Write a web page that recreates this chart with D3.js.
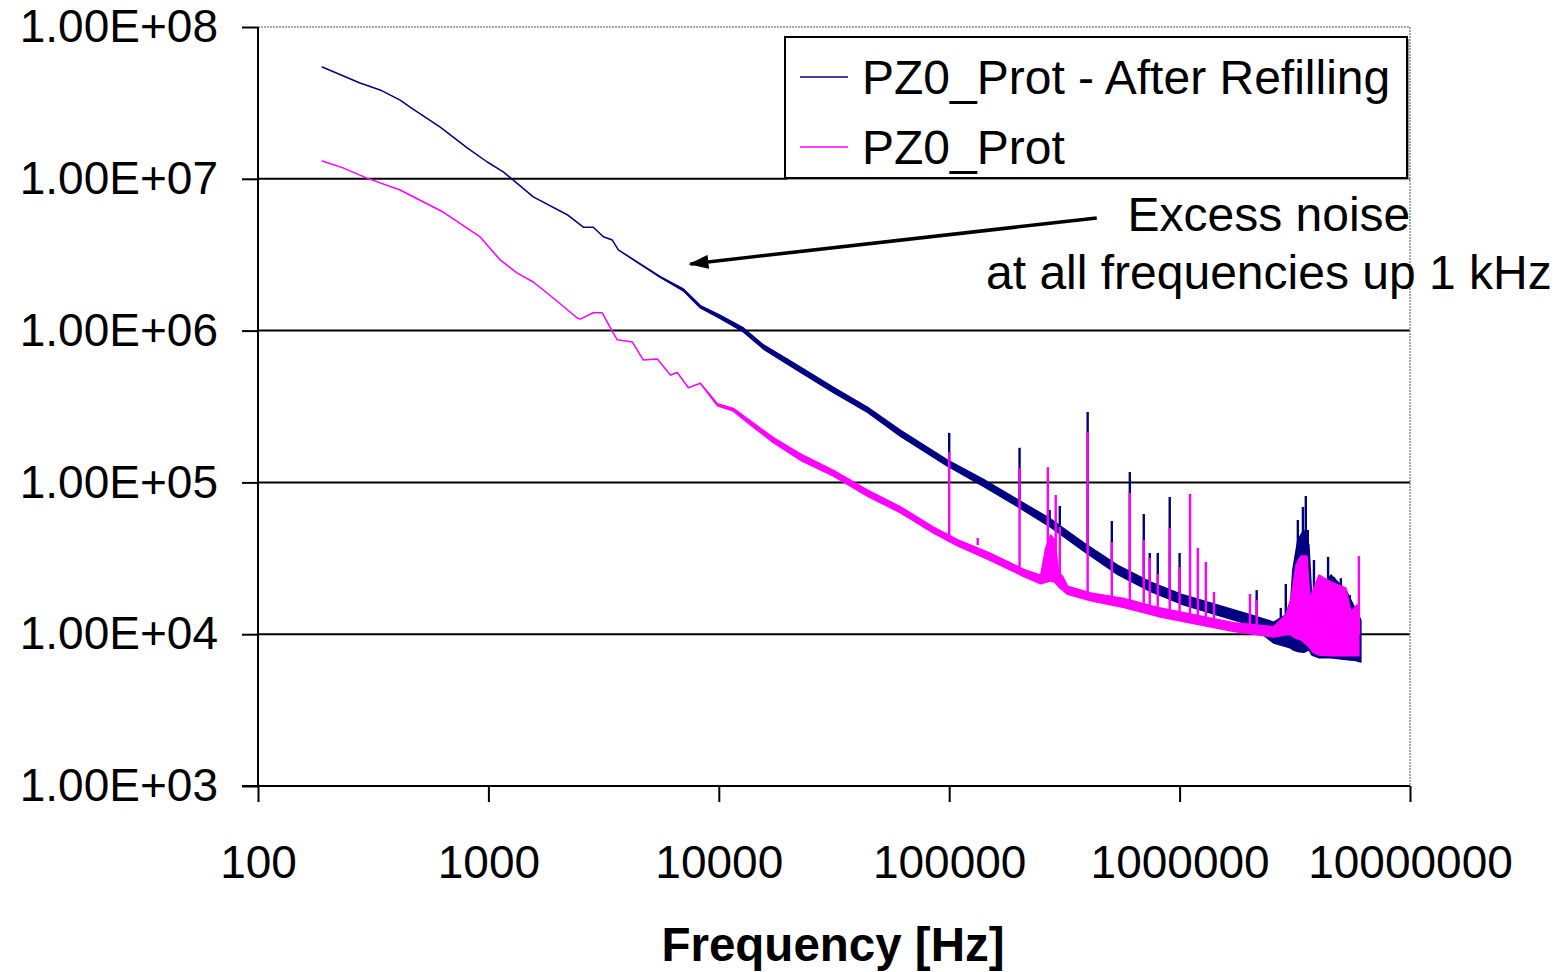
<!DOCTYPE html>
<html>
<head>
<meta charset="utf-8">
<title>PZ0_Prot noise spectrum</title>
<script src="https://cdn.jsdelivr.net/npm/d3@7"></script>
<style>
    body { margin: 0; background: #fff; }
    svg { display: block; font-family: "Liberation Sans", Arial, sans-serif; }
    .axis path, .axis line { stroke: #000; stroke-width: 2; }
    .axis text { font-size: 46px; fill: #000; }
</style>
</head>
<body>
<div id="cont"></div>
<script>
// values
var xTicks = [1e2, 1e3, 1e4, 1e5, 1e6, 1e7];
var yTicks = [1e3, 1e4, 1e5, 1e6, 1e7, 1e8];
var seriesNames = ['PZ0_Prot - After Refilling', 'PZ0_Prot'];
var seriesColors = ['#000080', '#ff00ff'];

// [frequency, lower, upper] - lower == upper where the trace is a clean line
var afterRefilling = [
    [190, 5.45e7, 5.45e7], [277, 4.28e7, 4.28e7], [339, 3.85e7, 3.85e7],
    [414, 3.30e7, 3.30e7], [457, 2.97e7, 2.97e7], [618, 2.19e7, 2.19e7],
    [809, 1.60e7, 1.60e7], [989, 1.29e7, 1.29e7], [1160, 1.11e7, 1.11e7],
    [1282, 9.8e6, 9.8e6], [1566, 7.6e6, 7.6e6], [2198, 5.8e6, 5.8e6],
    [2582, 4.8e6, 4.8e6], [2853, 4.8e6, 4.8e6], [3155, 4.15e6, 4.15e6],
    [3450, 3.95e6, 3.95e6], [3664, 3.4e6, 3.4e6], [5572, 2.24e6, 2.27e6],
    [7015, 1.83e6, 1.88e6], [8318, 1.41e6, 1.46e6], [10160, 1.20e6, 1.26e6],
    [12790, 9.8e5, 1.04e6], [15630, 7.56e5, 8.04e5], [21090, 5.68e5, 6.13e5],
    [31470, 3.91e5, 4.22e5], [44260, 2.89e5, 3.12e5], [61520, 2.01e5, 2.2e5],
    [98400, 1.28e5, 1.40e5], [140900, 9.4e4, 1.045e5], [198200, 6.92e4, 7.7e4],
    [275600, 5.08e4, 5.74e4], [383700, 3.53e4, 3.99e4], [539600, 2.47e4, 2.84e4],
    [750000, 1.91e4, 2.2e4], [1.04e6, 1.56e4, 1.81e4], [1.47e6, 1.33e4, 1.55e4],
    [2.04e6, 1.15e4, 1.34e4], [2.56e6, 8.75e3, 1.2e4], [2.89e6, 8.3e3, 1.34e4],
    [3.04e6, 8.1e3, 1.68e4], [3.10e6, 7.9e3, 2.65e4], [3.26e6, 7.7e3, 4.18e4],
    [3.46e6, 7.6e3, 4.85e4], [3.64e6, 7.9e3, 3.87e4], [3.75e6, 7.3e3, 1.68e4],
    [4.03e6, 7.0e3, 1.95e4], [4.54e6, 7.0e3, 2.45e4], [5.27e6, 6.8e3, 1.95e4],
    [5.82e6, 6.7e3, 1.44e4], [6.12e6, 6.56e3, 1.24e4]
];

// [frequency, base, top] of the narrow lines
var afterRefillingSpikes = [
    [1.0e5, 1.30e5, 2.12e5], [2.02e5, 7.31e4, 1.69e5], [2.73e5, 5.57e4, 6.58e4],
    [3.02e5, 5.24e4, 7.00e4], [3.99e5, 3.70e4, 2.91e5], [5.08e5, 2.86e4, 5.57e4],
    [6.08e5, 2.53e4, 1.17e5], [6.99e5, 2.28e4, 6.19e4], [7.42e5, 2.17e4, 3.43e4],
    [8.04e5, 2.01e4, 3.43e4], [9.06e5, 1.84e4, 8.02e4], [1.00e6, 1.73e4, 3.43e4],
    [2.16e6, 1.20e4, 1.95e4], [2.75e6, 1.02e4, 1.49e4], [2.89e6, 9.73e3, 2.14e4],
    [3.26e6, 1.68e4, 5.65e4], [3.43e6, 1.68e4, 6.89e4], [3.53e6, 1.68e4, 8.13e4],
    [3.60e6, 1.68e4, 4.86e4], [3.83e6, 1.24e4, 3.08e4], [4.03e6, 1.24e4, 2.45e4],
    [4.41e6, 1.24e4, 3.23e4], [4.68e6, 1.24e4, 2.38e4], [5.01e6, 1.24e4, 2.34e4],
    [5.48e6, 1.24e4, 1.81e4]
];

var prot = [
    [190, 1.31e7, 1.31e7], [234, 1.18e7, 1.18e7], [297, 1.01e7, 1.01e7],
    [414, 8.44e6, 8.44e6], [636, 6.04e6, 6.04e6], [921, 4.14e6, 4.14e6],
    [1125, 2.92e6, 2.92e6], [1334, 2.39e6, 2.39e6], [1566, 2.09e6, 2.09e6],
    [1912, 1.64e6, 1.64e6], [2430, 1.21e6, 1.21e6], [2506, 1.19e6, 1.19e6],
    [2853, 1.31e6, 1.31e6], [3120, 1.31e6, 1.31e6], [3487, 9.6e5, 9.6e5],
    [3627, 8.7e5, 8.7e5], [4217, 8.4e5, 8.4e5], [4705, 6.4e5, 6.4e5],
    [5412, 6.5e5, 6.5e5], [6166, 5.1e5, 5.1e5], [6607, 5.3e5, 5.3e5],
    [7379, 4.2e5, 4.2e5], [8318, 4.5e5, 4.5e5], [9862, 3.2e5, 3.3e5],
    [11570, 2.95e5, 3.07e5], [13720, 2.39e5, 2.54e5], [17260, 1.83e5, 1.97e5],
    [22610, 1.40e5, 1.54e5], [31470, 1.10e5, 1.20e5], [44260, 8.1e4, 8.9e4],
    [61520, 6.3e4, 6.9e4], [85500, 4.63e4, 5.08e4], [108700, 3.82e4, 4.19e4],
    [151300, 3.06e4, 3.41e4], [210500, 2.40e4, 2.67e4], [249500, 2.15e4, 2.45e4],
    [262400, 2.2e4, 3.7e4], [275600, 2.25e4, 4.5e4], [287100, 2.2e4, 4.18e4],
    [298500, 2.05e4, 2.57e4], [311000, 1.95e4, 2.4e4], [326800, 1.83e4, 2.07e4],
    [411200, 1.66e4, 1.87e4], [572800, 1.50e4, 1.72e4], [803700, 1.31e4, 1.50e4],
    [1.72e6, 1.04e4, 1.19e4], [2.56e6, 9.6e3, 1.12e4], [2.89e6, 9.9e3, 1.34e4],
    [3.04e6, 9.9e3, 1.68e4], [3.20e6, 9.4e3, 2.86e4], [3.36e6, 9.2e3, 3.27e4],
    [3.57e6, 8.5e3, 3.27e4], [3.68e6, 8.1e3, 1.68e4], [3.79e6, 7.6e3, 1.95e4],
    [4.03e6, 7.3e3, 2.45e4], [4.54e6, 7.2e3, 2.21e4], [5.27e6, 7.2e3, 2.01e4],
    [5.54e6, 7.2e3, 1.40e4], [5.88e6, 7.2e3, 1.56e4], [6.0e6, 7.2e3, 1.56e4]
];

var protSpikes = [
    [1.0e5, 4.37e4, 1.58e5], [1.33e5, 3.87e4, 4.30e4], [2.02e5, 2.77e4, 1.24e5],
    [2.68e5, 2.28e4, 1.26e5], [2.90e5, 2.34e4, 8.26e4], [3.02e5, 2.28e4, 5.08e4],
    [3.99e5, 1.87e4, 2.15e5], [5.08e5, 1.68e4, 4.05e4], [6.08e5, 1.56e4, 8.51e4],
    [6.99e5, 1.49e4, 4.18e4], [7.42e5, 1.47e4, 3.18e4], [8.04e5, 1.44e4, 2.49e4],
    [9.06e5, 1.40e4, 5.01e4], [1.00e6, 1.36e4, 2.77e4], [1.11e6, 1.34e4, 8.39e4],
    [1.20e6, 1.30e4, 3.70e4], [1.30e6, 1.27e4, 2.99e4], [1.41e6, 1.24e4, 1.90e4],
    [2.02e6, 1.11e4, 1.84e4], [2.16e6, 1.10e4, 1.68e4], [6.0e6, 9.9e3, 3.27e4]
];

// annotation: arrow tail, arrow tip, text anchor (data coordinates)
var noteLines = ['Excess noise', 'at all frequencies up 1 kHz'];
var noteArrow = [[4.37e5, 5.52e6], [7530, 2.75e6]];
var noteText = [[2.44e6, 4.53e6], [2.44e6, 1.88e6]];

(function() {
    var W = 1567, H = 972,
        margin = { top: 27, right: 157, bottom: 186, left: 258 },
        width = W - margin.left - margin.right,
        height = H - margin.top - margin.bottom;

    var svg = d3.select('#cont').append('svg')
        .attr('width', W)
        .attr('height', H);

    svg.append('rect').attr('width', W).attr('height', H).attr('fill', '#fff');

    var g = svg.append('g')
        .attr('transform', 'translate(' + margin.left + ',' + margin.top + ')');

    var x = d3.scaleLog().domain([1e2, 1e7]).range([0, width]);
    var y = d3.scaleLog().domain([1e3, 1e8]).range([height, 0]);

    //Grid lines
    g.append('g')
        .selectAll('line')
        .data(yTicks.filter(function(d) { return d > 1e3 && d < 1e8; }))
        .enter().append('line')
        .attr('x1', 0).attr('x2', width)
        .attr('y1', function(d) { return y(d); })
        .attr('y2', function(d) { return y(d); })
        .attr('stroke', '#000').attr('stroke-width', 2);

    //Top / right frame, dotted grey
    g.append('path')
        .attr('d', 'M0,0H' + width + 'V' + height)
        .attr('fill', 'none')
        .attr('stroke', '#8a8a8a')
        .attr('stroke-width', 1.5)
        .attr('stroke-dasharray', '2,1');

    var band = d3.area()
        .x(function(d) { return x(d[0]); })
        .y0(function(d) { return y(d[1]); })
        .y1(function(d) { return y(d[2]); });

    function drawSeries(data, spikes, color) {
        g.append('path')
            .datum(data)
            .attr('d', band)
            .attr('fill', color)
            .attr('stroke', color)
            .attr('stroke-width', 1.5)
            .attr('stroke-linejoin', 'round');

        g.append('g')
            .selectAll('line')
            .data(spikes)
            .enter().append('line')
            .attr('x1', function(d) { return x(d[0]); })
            .attr('x2', function(d) { return x(d[0]); })
            .attr('y1', function(d) { return y(d[1]); })
            .attr('y2', function(d) { return y(d[2]); })
            .attr('stroke', color)
            .attr('stroke-width', 2.4);
    }

    drawSeries(afterRefilling, afterRefillingSpikes, seriesColors[0]);
    drawSeries(prot, protSpikes, seriesColors[1]);

    //Axes
    var xAxis = d3.axisBottom(x)
        .tickValues(xTicks)
        .tickSize(16)
        .tickPadding(43)
        .tickFormat(d3.format('d'));

    var yAxis = d3.axisLeft(y)
        .tickValues(yTicks)
        .tickSize(16)
        .tickPadding(24)
        .tickFormat(function(d) {
            var e = Math.round(Math.log10(d));
            return '1.00E+' + (e < 10 ? '0' : '') + e;
        });

    g.append('g')
        .attr('class', 'axis xaxis')
        .attr('transform', 'translate(0,' + height + ')')
        .call(xAxis)
        .call(function(s) { s.select('.domain').attr('d', 'M-16,0H' + width); });

    g.append('g')
        .attr('class', 'axis yaxis')
        .call(yAxis)
        .call(function(s) { s.select('.domain').attr('d', 'M0,0V' + height); });

    g.selectAll('.axis text').attr('font-family', null).attr('font-size', null);

    //Axis title
    svg.append('text')
        .attr('x', 833)
        .attr('y', 961)
        .attr('text-anchor', 'middle')
        .attr('font-size', 47.5)
        .attr('font-weight', 'bold')
        .text('Frequency [Hz]');

    //Legend
    var legend = svg.append('g').attr('transform', 'translate(785,37)');
    legend.append('rect')
        .attr('x', 2).attr('y', 2)
        .attr('width', 622).attr('height', 141)
        .attr('fill', '#9a9a9a');
    legend.append('rect')
        .attr('width', 622).attr('height', 141)
        .attr('fill', '#fff')
        .attr('stroke', '#000')
        .attr('stroke-width', 2);
    seriesNames.forEach(function(name, i) {
        var ly = 40 + i * 70;
        legend.append('line')
            .attr('x1', 15).attr('x2', 63)
            .attr('y1', ly).attr('y2', ly)
            .attr('stroke', seriesColors[i])
            .attr('stroke-width', 1.6);
        legend.append('text')
            .attr('x', 77)
            .attr('y', ly + 17)
            .attr('font-size', 48)
            .text(name);
    });

    //Annotation
    var defs = svg.append('defs');
    defs.append('marker')
        .attr('id', 'arrow')
        .attr('markerUnits', 'userSpaceOnUse')
        .attr('markerWidth', 20).attr('markerHeight', 14)
        .attr('refX', 18).attr('refY', 7)
        .attr('orient', 'auto')
        .append('path')
        .attr('d', 'M0,0L20,7L0,14Z')
        .attr('fill', '#000');

    g.append('line')
        .attr('x1', x(noteArrow[0][0])).attr('y1', y(noteArrow[0][1]))
        .attr('x2', x(noteArrow[1][0])).attr('y2', y(noteArrow[1][1]))
        .attr('stroke', '#000')
        .attr('stroke-width', 3.5)
        .attr('marker-end', 'url(#arrow)');

    noteLines.forEach(function(t, i) {
        g.append('text')
            .attr('x', x(noteText[i][0]))
            .attr('y', y(noteText[i][1]))
            .attr('text-anchor', 'middle')
            .attr('font-size', 48)
            .text(t);
    });
})();
</script>
</body>
</html>
